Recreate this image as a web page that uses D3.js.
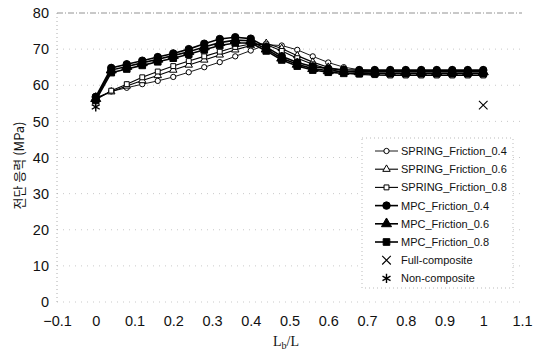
<!DOCTYPE html>
<html>
<head>
<meta charset="utf-8">
<script src="https://cdn.jsdelivr.net/npm/d3@7"></script>
<style>
  body { margin: 0; background: #fff; }
  svg text { font-family: "Liberation Sans", Arial, sans-serif; fill: #111; }
</style>
</head>
<body>
<svg id="chart" width="540" height="355"></svg>
<script>
// L_b/L positions
const xs = [0, 0.04, 0.08, 0.12, 0.16, 0.2, 0.24, 0.28, 0.32, 0.36, 0.4, 0.44, 0.48,
            0.52, 0.56, 0.6, 0.64, 0.68, 0.72, 0.76, 0.8, 0.84, 0.88, 0.92, 0.96, 1.0];

const springF04 = [56.5, 58.3, 59.3, 60.3, 61.2, 62.3, 63.6, 65.0, 66.4, 68.0, 69.6, 71.2, 71.0,
                   69.8, 68.0, 66.3, 65.0, 64.3, 64.0, 63.9, 63.9, 63.9, 63.9, 63.9, 63.9, 63.9];
const springF06 = [56.3, 58.2, 59.8, 61.3, 62.7, 64.2, 65.6, 67.0, 68.4, 69.8, 71.0, 71.6, 70.2,
                   68.2, 66.4, 65.0, 64.0, 63.5, 63.3, 63.2, 63.2, 63.2, 63.2, 63.2, 63.2, 63.2];
const springF08 = [56.0, 58.5, 60.3, 62.2, 63.8, 65.3, 66.7, 68.0, 69.3, 70.6, 71.4, 71.3, 69.5,
                   67.5, 65.8, 64.5, 63.5, 63.0, 62.8, 62.7, 62.7, 62.7, 62.7, 62.7, 62.7, 62.7];
const mpcF04 = [56.8, 64.8, 65.8, 66.8, 67.8, 68.8, 70.0, 71.5, 72.8, 73.3, 72.9, 70.6, 68.0,
                66.3, 65.2, 64.6, 64.3, 64.2, 64.2, 64.2, 64.2, 64.2, 64.2, 64.2, 64.2, 64.2];
const mpcF06 = [56.3, 64.2, 65.2, 66.2, 67.2, 68.2, 69.3, 70.6, 71.8, 72.5, 72.3, 70.0, 67.5,
                65.8, 64.6, 64.0, 63.8, 63.7, 63.7, 63.7, 63.7, 63.7, 63.7, 63.7, 63.7, 63.7];
const mpcF08 = [55.8, 63.5, 64.5, 65.5, 66.5, 67.5, 68.6, 69.8, 71.0, 71.7, 71.7, 69.5, 67.0,
                65.3, 64.2, 63.6, 63.3, 63.2, 63.2, 63.2, 63.2, 63.2, 63.2, 63.2, 63.2, 63.2];

const fullComposite = [1.0, 54.5];
const nonComposite = [0, 54.0];

const seriesNames = ["SPRING_Friction_0.4", "SPRING_Friction_0.6", "SPRING_Friction_0.8",
                     "MPC_Friction_0.4", "MPC_Friction_0.6", "MPC_Friction_0.8"];
const seriesValues = [springF04, springF06, springF08, mpcF04, mpcF06, mpcF08];
const pointNames = ["Full-composite", "Non-composite"];

const xTicks = [-0.1, 0, 0.1, 0.2, 0.3, 0.4, 0.5, 0.6, 0.7, 0.8, 0.9, 1, 1.1];
const yTicks = [0, 10, 20, 30, 40, 50, 60, 70, 80];

const svg = d3.select("#chart");
const margin = { left: 57, right: 18, top: 13, bottom: 53 };
const W = 540, H = 355;

const x = d3.scaleLinear().domain([-0.1, 1.1]).range([margin.left, W - margin.right]);
const y = d3.scaleLinear().domain([0, 80]).range([H - margin.bottom, margin.top]);

// grid
svg.append("g").selectAll("line").data(yTicks).enter().append("line")
  .attr("x1", x(-0.1)).attr("x2", x(1.1))
  .attr("y1", d => y(d)).attr("y2", d => y(d))
  .attr("stroke", d => d === 80 ? "#777" : "#bbb")
  .attr("stroke-width", 0.8)
  .attr("stroke-dasharray", d => d === 80 ? "6,2,1,2" : "1,5");

svg.append("line")
  .attr("x1", x(-0.1)).attr("x2", x(-0.1))
  .attr("y1", y(0)).attr("y2", y(80))
  .attr("stroke", "#999").attr("stroke-width", 0.8).attr("stroke-dasharray", "1,3");

// axes
const yAxis = d3.axisLeft(y).tickValues(yTicks).tickSize(0).tickPadding(8);
const gy = svg.append("g").attr("transform", `translate(${x(-0.1)},0)`).call(yAxis);
gy.select(".domain").remove();
gy.selectAll("text").style("font-size", "14.5px");

const xAxis = d3.axisBottom(x).tickValues(xTicks).tickSize(0).tickPadding(14)
  .tickFormat(d => d3.format("")(d).replace("-", "\u2212"));
const gx = svg.append("g").attr("transform", `translate(0,${y(0)})`).call(xAxis);
gx.select(".domain").remove();
gx.selectAll("text").style("font-size", "14.5px");

// axis titles
svg.append("text")
  .attr("transform", `translate(24,${(y(0) + y(80)) / 2 + 8}) rotate(-90)`)
  .attr("text-anchor", "middle")
  .style("font-family", "'Noto Sans CJK KR', sans-serif")
  .style("font-size", "13px")
  .text("전단 응력 (MPa)");

const xt = svg.append("text")
  .attr("x", 286).attr("y", 346)
  .attr("text-anchor", "middle")
  .style("font-family", "'Liberation Serif', 'Times New Roman', serif")
  .style("font-size", "14px");
xt.append("tspan").text("L");
xt.append("tspan").attr("dy", 3).style("font-size", "10px").text("b");
xt.append("tspan").attr("dy", -3).text("/L");

// series
const symbols = [d3.symbolCircle, d3.symbolTriangle, d3.symbolSquare,
                 d3.symbolCircle, d3.symbolTriangle, d3.symbolSquare];
const filled = [false, false, false, true, true, true];
const sizes = [22, 24, 24, 44, 44, 44];
const widths = [0.9, 1.1, 1.1, 1.6, 1.6, 1.6];

const line = d3.line().x((d, i) => x(xs[i])).y(d => y(d));

seriesValues.forEach((vals, s) => {
  const g = svg.append("g");
  g.append("path").datum(vals)
    .attr("d", line)
    .attr("fill", "none")
    .attr("stroke", "#000")
    .attr("stroke-width", widths[s]);
  g.selectAll("path.m").data(vals).enter().append("path")
    .attr("class", "m")
    .attr("transform", (d, i) => `translate(${x(xs[i])},${y(d)})`)
    .attr("d", d3.symbol().type(symbols[s]).size(sizes[s]))
    .attr("fill", filled[s] ? "#000" : "#fff")
    .attr("stroke", "#000")
    .attr("stroke-width", 1);
});

// single points
const cross = d3.symbol().type(d3.symbolX).size(50);
svg.append("path")
  .attr("transform", `translate(${x(fullComposite[0])},${y(fullComposite[1])})`)
  .attr("d", cross).attr("fill", "none").attr("stroke", "#000").attr("stroke-width", 1.1);

const star = d3.symbol().type(d3.symbolAsterisk).size(60);
svg.append("path")
  .attr("transform", `translate(${x(nonComposite[0])},${y(nonComposite[1])})`)
  .attr("d", star).attr("fill", "none").attr("stroke", "#000").attr("stroke-width", 1.4);

// legend
const lg = svg.append("g").attr("transform", "translate(362,138)");
lg.append("rect")
  .attr("width", 151).attr("height", 150)
  .attr("fill", "#fff").attr("stroke", "#aaa")
  .attr("stroke-width", 0.8).attr("stroke-dasharray", "1,3");

const rowY = i => 13 + i * 18.2;
seriesNames.forEach((name, i) => {
  const r = lg.append("g").attr("transform", `translate(0,${rowY(i)})`);
  r.append("line").attr("x1", 13).attr("x2", 36).attr("y1", 0).attr("y2", 0)
    .attr("stroke", "#000").attr("stroke-width", widths[i]);
  r.append("path").attr("transform", "translate(24.5,0)")
    .attr("d", d3.symbol().type(symbols[i]).size(sizes[i]))
    .attr("fill", filled[i] ? "#000" : "#fff").attr("stroke", "#000");
  r.append("text").attr("x", 39).attr("y", 4).style("font-size", "11px").text(name);
});
pointNames.forEach((name, j) => {
  const i = seriesNames.length + j;
  const r = lg.append("g").attr("transform", `translate(0,${rowY(i)})`);
  r.append("path").attr("transform", "translate(24.5,0)")
    .attr("d", j === 0 ? cross : star)
    .attr("fill", "none").attr("stroke", "#000").attr("stroke-width", j === 0 ? 1.1 : 1.4);
  r.append("text").attr("x", 39).attr("y", 4).style("font-size", "11px").text(name);
});
</script>
</body>
</html>
